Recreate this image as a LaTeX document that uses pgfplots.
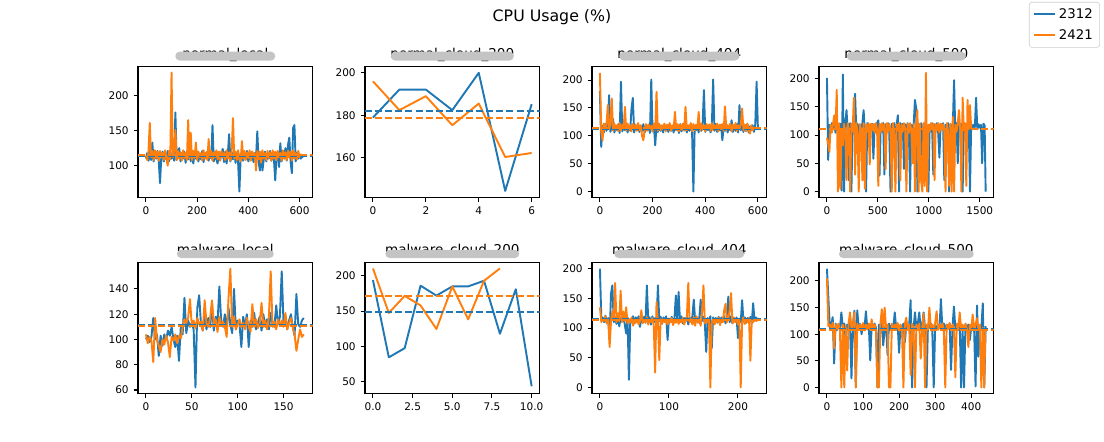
\documentclass[border=0pt]{standalone}
\usepackage{fontspec}
\setmainfont{DejaVu Sans}
\usepackage{pgfplots}
\pgfplotsset{compat=1.18}
\definecolor{C1}{RGB}{31,119,180}
\definecolor{C2}{RGB}{255,127,14}
\definecolor{REDACT}{RGB}{196,196,196}

\pgfplotsset{
  panel/.style={
    width=1.746in, height=1.306in, scale only axis, anchor=south west,
    tick align=outside, tick pos=left, major tick length=3.2pt,
    every tick/.style={black, line width=0.74pt},
    axis line style={line width=0.74pt},
    tick label style={font=\fontsize{7.6}{9}\selectfont},
    /pgf/number format/assume math mode=true,
    /pgf/number format/1000 sep={},
    scaled ticks=false,
    title style={font=\fontsize{9.8}{11}\selectfont, at={(0.5,1)}, anchor=base, inner sep=0pt},
    every axis plot/.append style={line width=1.38pt, line join=round, no markers},
  },
  mean/.style={dash pattern=on 5.1pt off 2.2pt, forget plot},
}
% grey bar over a subplot title: axis name, half width, bottom and top offset
\newcommand{\redact}[4]{%
  \fill[REDACT, rounded corners=3.2pt] ([xshift=-#2,yshift=#3]#1.north) rectangle ([xshift=#2,yshift=#4]#1.north);}

\begin{document}
\begin{tikzpicture}
\path[use as bounding box] (0,0) rectangle (11.04in,4.42in);
\node[anchor=north, inner sep=0pt, font=\fontsize{11.4}{13}\selectfont] at (5.52in,4.33in) {CPU Usage (\%)};

% ---------- row 1 ----------
\begin{axis}[panel, name=p1, at={(1.38in,2.445in)}, title={normal\_local},
  xmin=-31, xmax=651, ymin=54.5, ymax=241, xtick={0,200,400,600}, ytick={100,150,200}]
\addplot[C1] coordinates {(0,110)(5,118)(10,107)(15,120)(20,108)(25,133)(30,106)(35,119)(40,110)(45,121)(50,107)(55,75)(60,112)(65,120)(70,106)(75,118)(80,109)(85,121)(90,106)(95,117)(100,110)(105,120)(110,107)(115,176)(120,108)(125,119)(130,125)(135,106)(140,118)(145,110)(150,120)(155,104)(160,117)(165,109)(170,121)(175,106)(180,119)(185,103)(190,118)(195,110)(200,120)(205,106)(210,117)(215,109)(220,121)(225,105)(230,118)(235,110)(240,120)(245,107)(250,118)(255,110)(260,158)(265,106)(270,119)(275,109)(280,103)(285,120)(290,108)(295,118)(300,124)(305,105)(310,120)(315,103)(320,117)(325,145)(330,106)(335,119)(340,109)(345,121)(350,104)(355,118)(360,105)(365,63)(370,112)(375,120)(380,107)(385,118)(390,110)(395,121)(400,106)(405,117)(410,109)(415,120)(420,105)(425,118)(430,110)(435,149)(440,106)(445,93)(450,119)(455,93)(460,108)(465,120)(470,106)(475,117)(480,110)(485,121)(490,107)(495,118)(500,109)(505,79)(510,112)(515,120)(520,98)(525,132)(530,106)(535,119)(540,110)(545,125)(550,107)(555,130)(560,140)(565,106)(570,89)(575,154)(580,158)(585,106)(590,118)(595,110)(600,115)(605,110)(610,113)(615,112)};
\addplot[C2] coordinates {(0,114)(5,108)(10,120)(15,161)(20,112)(25,121)(30,108)(35,122)(40,111)(45,120)(50,107)(55,121)(60,112)(65,118)(70,108)(75,122)(80,110)(85,100)(90,121)(95,109)(100,233)(105,112)(110,120)(115,151)(120,108)(125,121)(130,110)(135,119)(140,107)(145,122)(150,111)(155,118)(160,108)(165,165)(170,110)(175,147)(180,108)(185,121)(190,111)(195,133)(200,108)(205,120)(210,112)(215,118)(220,107)(225,122)(230,110)(235,119)(240,108)(245,138)(250,111)(255,121)(260,107)(265,119)(270,112)(275,122)(280,109)(285,120)(290,107)(295,121)(300,112)(305,118)(310,108)(315,122)(320,110)(325,119)(330,107)(335,121)(340,168)(345,110)(350,120)(355,108)(360,122)(365,111)(370,106)(375,135)(380,110)(385,121)(390,108)(395,119)(400,111)(405,122)(410,107)(415,120)(420,112)(425,118)(430,93)(435,121)(440,109)(445,120)(450,104)(455,122)(460,110)(465,118)(470,108)(475,121)(480,111)(485,119)(490,107)(495,122)(500,110)(505,120)(510,108)(515,121)(520,112)(525,118)(530,107)(535,122)(540,110)(545,119)(550,108)(555,121)(560,111)(565,120)(570,107)(575,122)(580,110)(585,118)(590,109)(595,121)(600,112)(605,116)(610,114)(615,114)(620,114)};
\addplot[C1, mean] coordinates {(-31,113.8)(651,113.8)};
\addplot[C2, mean] coordinates {(-31,114.6)(651,114.6)};
\end{axis}
\redact{p1}{0.50in}{0.063in}{0.153in}

\begin{axis}[panel, name=p2, at={(3.65in,2.445in)}, title={normal\_cloud\_200},
  xmin=-0.3, xmax=6.3, ymin=141.2, ymax=202.8, xtick={0,2,4,6}, ytick={160,180,200}]
\addplot[C1] coordinates {(0,178.9)(1,192.1)(2,192.1)(3,182.4)(4,200)(5,144.3)(6,185.2)};
\addplot[C2] coordinates {(0,196)(1,182.4)(2,189)(3,175.3)(4,185.5)(5,160.3)(6,162.2)};
\addplot[C1, mean] coordinates {(-0.3,182.1)(6.3,182.1)};
\addplot[C2, mean] coordinates {(-0.3,178.7)(6.3,178.7)};
\end{axis}
\redact{p2}{0.615in}{0.063in}{0.153in}

\begin{axis}[panel, name=p3, at={(5.92in,2.445in)}, title={normal\_cloud\_404},
  xmin=-30, xmax=633, ymin=-10.6, ymax=223.6, xtick={0,200,400,600}, ytick={0,50,100,150,200}]
\addplot[C1] coordinates {(0,180)(5,80)(10,118)(15,106)(20,121)(25,109)(30,119)(35,173)(40,107)(45,120)(50,130)(55,106)(60,118)(65,110)(70,121)(75,105)(80,197)(85,108)(90,119)(95,110)(100,121)(105,106)(110,118)(115,109)(120,149)(125,168)(130,106)(135,119)(140,110)(145,120)(150,107)(155,118)(160,109)(165,121)(170,106)(175,117)(180,110)(185,120)(190,105)(195,201)(200,108)(205,119)(210,83)(215,118)(220,107)(225,121)(230,109)(235,118)(240,106)(245,120)(250,110)(255,117)(260,107)(265,121)(270,109)(275,118)(280,106)(285,120)(290,110)(295,119)(300,105)(305,121)(310,108)(315,118)(320,110)(325,120)(330,106)(335,117)(340,109)(345,121)(350,107)(355,0)(360,118)(365,110)(370,120)(375,106)(380,119)(385,109)(390,121)(395,182)(400,107)(405,118)(410,110)(415,120)(420,106)(425,117)(430,201)(435,109)(440,121)(445,107)(450,118)(455,110)(460,120)(465,92)(470,117)(475,109)(480,121)(485,106)(490,118)(495,110)(500,128)(505,107)(510,119)(515,109)(520,121)(525,106)(530,155)(535,110)(540,118)(545,107)(550,120)(555,109)(560,121)(565,106)(570,117)(575,110)(580,119)(585,107)(590,121)(595,197)(600,112)(603,116)};
\addplot[C2] coordinates {(0,213)(5,108)(10,92)(15,122)(20,110)(25,120)(30,155)(35,112)(40,121)(45,167)(50,109)(55,122)(60,111)(65,119)(70,108)(75,123)(80,110)(85,120)(90,112)(95,152)(100,109)(105,122)(110,111)(115,119)(120,108)(125,121)(130,112)(135,120)(140,109)(145,123)(150,110)(155,119)(160,100)(165,92)(170,111)(175,121)(180,109)(185,120)(190,112)(195,118)(200,108)(205,122)(210,111)(215,179)(220,109)(225,121)(230,110)(235,119)(240,112)(245,122)(250,108)(255,120)(260,111)(265,123)(270,109)(275,119)(280,112)(285,143)(290,110)(295,121)(300,108)(305,120)(310,111)(315,122)(320,109)(325,152)(330,110)(335,119)(340,112)(345,123)(350,108)(355,121)(360,110)(365,120)(370,112)(375,143)(380,109)(385,122)(390,111)(395,119)(400,108)(405,121)(410,112)(415,120)(420,109)(425,123)(430,110)(435,119)(440,111)(445,122)(450,108)(455,120)(460,112)(465,121)(470,109)(475,153)(480,110)(485,119)(490,112)(495,122)(500,108)(505,120)(510,111)(515,123)(520,109)(525,119)(530,112)(535,121)(540,149)(545,110)(550,120)(555,108)(560,122)(565,111)(570,104)(575,119)(580,110)(585,115)(590,113)};
\addplot[C1, mean] coordinates {(-30,113)(633,113)};
\addplot[C2, mean] coordinates {(-30,113.5)(633,113.5)};
\end{axis}
\redact{p3}{0.60in}{0.063in}{0.153in}

\begin{axis}[panel, name=p4, at={(8.19in,2.445in)}, title={normal\_cloud\_500},
  xmin=-78, xmax=1636, ymin=-10.5, ymax=220.5, xtick={0,500,1000,1500}, ytick={0,50,100,150,200},
  legend style={at={(1.609,1.497)}, anchor=north east, draw=black!20, rounded corners=2pt,
    font=\fontsize{9.6}{11}\selectfont, inner xsep=3pt, inner ysep=2.6pt, row sep=2.2pt},
  legend cell align=left,
  legend image code/.code={\draw[#1, line width=1.45pt] (0pt,0.3pt) -- (15pt,0.3pt);}]
\addplot[C1] coordinates {(0,201)(12,56)(24,118)(36,105)(48,121)(60,110)(72,119)(84,104)(96,121)(108,112)(120,60)(132,120)(144,2)(156,207)(168,0)(180,119)(192,144)(204,106)(216,20)(228,121)(240,0)(252,118)(264,104)(276,173)(288,110)(300,120)(312,48)(324,119)(336,106)(348,121)(360,144)(372,104)(384,0)(396,121)(408,80)(420,118)(432,110)(444,120)(456,58)(468,119)(480,105)(492,121)(504,126)(516,28)(528,118)(540,107)(552,121)(564,30)(576,119)(588,110)(600,121)(612,104)(624,0)(636,120)(648,108)(660,121)(672,60)(684,118)(696,135)(708,0)(720,121)(732,106)(744,120)(756,40)(768,119)(780,104)(792,121)(804,110)(816,0)(828,118)(840,106)(852,121)(864,162)(876,147)(888,0)(900,120)(912,108)(924,121)(936,20)(948,119)(960,105)(972,121)(984,110)(996,0)(1008,118)(1020,106)(1032,121)(1044,30)(1056,119)(1068,108)(1080,121)(1092,104)(1104,60)(1116,120)(1128,110)(1140,121)(1152,20)(1164,118)(1176,105)(1188,121)(1200,0)(1212,119)(1224,108)(1236,120)(1248,197)(1260,104)(1272,121)(1284,50)(1296,118)(1308,110)(1320,120)(1332,0)(1344,121)(1356,106)(1368,118)(1380,110)(1392,121)(1404,0)(1416,120)(1428,112)(1440,118)(1452,114)(1464,166)(1476,110)(1488,119)(1500,113)(1512,118)(1524,50)(1536,120)(1548,117)(1558,0)};
\addlegendentry{2312}
\addplot[C2] coordinates {(0,95)(12,85)(24,70)(36,118)(48,104)(60,121)(72,135)(84,110)(96,180)(108,0)(120,121)(132,5)(144,110)(156,82)(168,120)(180,104)(192,20)(204,121)(216,108)(228,0)(240,120)(252,106)(264,166)(276,30)(288,121)(300,104)(312,0)(324,119)(336,108)(348,20)(360,121)(372,5)(384,118)(396,106)(408,121)(420,48)(432,120)(444,108)(456,119)(468,104)(480,121)(492,110)(504,10)(516,120)(528,106)(540,121)(552,108)(564,119)(576,40)(588,121)(600,106)(612,120)(624,110)(636,0)(648,121)(660,104)(672,0)(684,119)(696,108)(708,121)(720,20)(732,118)(744,106)(756,121)(768,110)(780,0)(792,120)(804,104)(816,121)(828,108)(840,50)(852,119)(864,0)(876,121)(888,144)(900,0)(912,120)(924,20)(936,0)(948,121)(960,10)(972,210)(984,0)(996,118)(1008,106)(1020,121)(1032,110)(1044,120)(1056,20)(1068,119)(1080,108)(1092,121)(1104,104)(1116,120)(1128,110)(1140,119)(1152,106)(1164,0)(1176,121)(1188,108)(1200,10)(1212,120)(1224,0)(1236,132)(1248,0)(1260,118)(1272,106)(1284,120)(1296,144)(1308,110)(1320,0)(1332,166)(1344,108)(1356,121)(1368,10)(1380,162)(1392,110)(1404,153)(1416,112)(1428,110)};
\addlegendentry{2421}
\addplot[C1, mean] coordinates {(-78,111.5)(1636,111.5)};
\addplot[C2, mean] coordinates {(-78,111)(1636,111)};
\end{axis}
\redact{p4}{0.595in}{0.063in}{0.153in}

% ---------- row 2 ----------
\begin{axis}[panel, name=p5, at={(1.38in,0.486in)}, title={malware\_local},
  xmin=-8.65, xmax=181.65, ymin=57.3, ymax=160.7, xtick={0,50,100,150}, ytick={60,80,100,120,140}]
\addplot[C1] coordinates {(0,100)(2,103)(4,98)(6,102)(8,117)(10,100)(12,104)(14,87)(16,103)(18,95)(20,104)(22,100)(24,107)(26,103)(28,110)(30,100)(32,94)(34,103)(36,83)(38,110)(40,104)(42,133)(44,105)(46,115)(48,110)(50,113)(52,108)(54,62)(56,125)(58,135)(60,112)(62,107)(64,120)(66,108)(68,117)(70,110)(72,127)(74,107)(76,118)(78,112)(80,142)(82,115)(84,110)(86,120)(88,108)(90,125)(92,112)(94,105)(96,140)(98,108)(100,115)(102,112)(104,94)(106,118)(108,110)(110,120)(112,94)(114,115)(116,110)(118,121)(120,108)(122,113)(124,118)(126,107)(128,120)(130,110)(132,116)(134,108)(136,121)(138,112)(140,110)(142,127)(144,112)(146,118)(148,154)(150,112)(152,118)(154,108)(156,115)(158,120)(160,110)(162,103)(164,136)(166,112)(168,110)(170,115)(172,117)};
\addplot[C2] coordinates {(0,104)(2,97)(4,102)(6,99)(8,82)(10,117)(12,100)(14,95)(16,90)(18,100)(20,96)(22,103)(24,98)(26,86)(28,102)(30,99)(32,104)(34,97)(36,103)(38,101)(40,110)(42,116)(44,113)(46,117)(48,132)(50,111)(52,115)(54,109)(56,117)(58,112)(60,114)(62,107)(64,131)(66,113)(68,110)(70,117)(72,131)(74,112)(76,116)(78,106)(80,118)(82,112)(84,114)(86,110)(88,102)(90,133)(92,156)(94,110)(96,118)(98,108)(100,112)(102,116)(104,110)(106,113)(108,108)(110,117)(112,111)(114,106)(116,128)(118,110)(120,116)(122,109)(124,113)(126,129)(128,110)(130,115)(132,108)(134,118)(136,154)(138,110)(140,114)(142,108)(144,116)(146,111)(148,115)(150,110)(152,121)(154,108)(156,113)(158,117)(160,110)(162,104)(164,91)(166,100)(168,108)(170,102)(172,104)};
\addplot[C1, mean] coordinates {(-8.65,111.1)(181.65,111.1)};
\addplot[C2, mean] coordinates {(-8.65,110.8)(181.65,110.8)};
\end{axis}
\redact{p5}{0.485in}{0.047in}{0.13in}

\begin{axis}[panel, name=p6, at={(3.65in,0.486in)}, title={malware\_cloud\_200},
  xmin=-0.5, xmax=10.5, ymin=33.6, ymax=218.4, xtick={0,2.5,5,7.5,10}, ytick={50,100,150,200},
  xticklabel style={/pgf/number format/.cd, fixed, fixed zerofill, precision=1}]
\addplot[C1] coordinates {(0,194)(1,84.6)(2,97.6)(3,186)(4,172)(5,185)(6,185)(7,193)(8,118)(9,181)(10,43.6)};
\addplot[C2] coordinates {(0,210.4)(1,147.4)(2,171.6)(3,158)(4,124.8)(5,185)(6,138.4)(7,193)(8,210.4)};
\addplot[C1, mean] coordinates {(-0.5,149.1)(10.5,149.1)};
\addplot[C2, mean] coordinates {(-0.5,170.8)(10.5,170.8)};
\end{axis}
\redact{p6}{0.67in}{0.047in}{0.13in}

\begin{axis}[panel, name=p7, at={(5.92in,0.486in)}, title={malware\_cloud\_404},
  xmin=-11.5, xmax=241.5, ymin=-10, ymax=210, xtick={0,100,200}, ytick={0,50,100,150,200}]
\addplot[C1] coordinates {(0,200)(2,115)(4,118)(6,110)(8,121)(10,108)(12,117)(14,80)(16,158)(18,172)(20,110)(22,118)(24,107)(26,120)(28,103)(30,117)(32,111)(34,120)(36,106)(38,91)(40,118)(42,13)(44,115)(46,110)(48,120)(50,108)(52,118)(54,112)(56,120)(58,102)(60,117)(62,110)(64,119)(66,109)(68,172)(70,113)(72,118)(74,106)(76,120)(78,110)(80,117)(82,108)(84,172)(86,112)(88,119)(90,107)(92,118)(94,111)(96,120)(98,80)(100,116)(102,110)(104,119)(106,108)(108,117)(110,155)(112,111)(114,161)(116,110)(118,120)(120,108)(122,117)(124,112)(126,119)(128,106)(130,118)(132,111)(134,120)(136,148)(138,110)(140,118)(142,109)(144,117)(146,148)(148,112)(150,119)(152,108)(154,60)(156,117)(158,111)(160,120)(162,66)(164,118)(166,110)(168,117)(170,109)(172,119)(174,107)(176,118)(178,111)(180,120)(182,108)(184,117)(186,153)(188,110)(190,119)(192,108)(194,117)(196,112)(198,118)(200,83)(202,116)(204,110)(206,147)(208,111)(210,118)(212,109)(214,117)(216,112)(218,119)(220,108)(222,142)(224,113)(226,118)(228,115)(230,116)};
\addplot[C2] coordinates {(0,135)(2,110)(4,115)(6,112)(8,120)(10,108)(12,116)(14,68)(16,110)(18,128)(20,115)(22,176)(24,110)(26,125)(28,112)(30,163)(32,110)(34,128)(36,112)(38,135)(40,108)(42,115)(44,110)(46,118)(48,104)(50,113)(52,109)(54,116)(56,106)(58,112)(60,130)(62,108)(64,115)(66,110)(68,118)(70,106)(72,114)(74,110)(76,117)(78,104)(80,25)(82,144)(84,110)(86,46)(88,115)(90,108)(92,116)(94,110)(96,113)(98,106)(100,115)(102,110)(104,117)(106,105)(108,113)(110,109)(112,116)(114,107)(116,114)(118,110)(120,117)(122,106)(124,113)(126,120)(128,176)(130,110)(132,115)(134,106)(136,118)(138,104)(140,120)(142,110)(144,113)(146,104)(148,130)(150,172)(152,108)(154,115)(156,110)(158,113)(160,0)(162,110)(164,115)(166,106)(168,113)(170,110)(172,118)(174,105)(176,114)(178,110)(180,130)(182,141)(184,110)(186,117)(188,130)(190,159)(192,108)(194,118)(196,110)(198,115)(200,106)(202,113)(204,0)(206,110)(208,118)(210,107)(212,114)(214,110)(216,117)(218,45)(220,113)(222,110)(224,115)(226,112)(228,113)};
\addplot[C1, mean] coordinates {(-11.5,115.5)(241.5,115.5)};
\addplot[C2, mean] coordinates {(-11.5,113.2)(241.5,113.2)};
\end{axis}
\redact{p7}{0.65in}{0.047in}{0.13in}

\begin{axis}[panel, name=p8, at={(8.19in,0.486in)}, title={malware\_cloud\_500},
  xmin=-22, xmax=462, ymin=-11.15, ymax=234.15, xtick={0,100,200,300,400}, ytick={0,50,100,150,200}]
\addplot[C1] coordinates {(0,223)(4,168)(8,112)(12,118)(16,132)(20,45)(24,120)(28,108)(32,118)(36,111)(40,141)(44,112)(48,120)(52,89)(56,118)(60,109)(64,120)(68,17)(72,118)(76,144)(80,0)(84,145)(88,112)(92,119)(96,100)(100,117)(104,110)(108,143)(112,109)(116,118)(120,51)(124,117)(128,110)(132,120)(136,112)(140,0)(144,118)(148,109)(152,120)(156,79)(160,110)(164,118)(168,61)(172,120)(176,108)(180,118)(184,112)(188,141)(192,110)(196,119)(200,65)(204,117)(208,110)(212,120)(216,85)(220,118)(224,112)(228,117)(232,164)(236,0)(240,110)(244,141)(248,112)(252,120)(256,141)(260,108)(264,117)(268,141)(272,110)(276,0)(280,118)(284,112)(288,120)(292,108)(296,0)(300,118)(304,110)(308,117)(312,112)(316,166)(320,110)(324,120)(328,108)(332,118)(336,111)(340,120)(344,33)(348,112)(352,152)(356,110)(360,118)(364,108)(368,119)(372,0)(376,112)(380,0)(384,119)(388,110)(392,118)(396,89)(400,112)(404,118)(408,109)(412,2)(416,154)(420,58)(424,117)(428,110)(432,158)(436,0)(440,115)};
\addplot[C2] coordinates {(0,205)(4,115)(8,118)(12,110)(16,122)(20,73)(24,118)(28,110)(32,120)(36,108)(40,0)(44,118)(48,0)(52,116)(56,32)(60,120)(64,141)(68,110)(72,118)(76,141)(80,0)(84,120)(88,108)(92,118)(96,110)(100,121)(104,107)(108,118)(112,110)(116,120)(120,108)(124,128)(128,110)(132,118)(136,107)(140,0)(144,0)(148,118)(152,147)(156,110)(160,150)(164,108)(168,118)(172,0)(176,0)(180,120)(184,108)(188,118)(192,110)(196,121)(200,107)(204,118)(208,110)(212,0)(216,120)(220,131)(224,108)(228,118)(232,24)(236,120)(240,110)(244,0)(248,118)(252,108)(256,120)(260,54)(264,110)(268,139)(272,0)(276,118)(280,108)(284,150)(288,110)(292,118)(296,107)(300,121)(304,143)(308,108)(312,118)(316,110)(320,120)(324,108)(328,0)(332,118)(336,110)(340,121)(344,107)(348,118)(352,110)(356,19)(360,120)(364,108)(368,141)(372,110)(376,118)(380,107)(384,120)(388,110)(392,76)(396,118)(400,108)(404,137)(408,110)(412,118)(416,130)(420,108)(424,118)(428,0)(432,112)(436,0)(439,110)};
\addplot[C1, mean] coordinates {(-22,110)(462,110)};
\addplot[C2, mean] coordinates {(-22,108.3)(462,108.3)};
\end{axis}
\redact{p8}{0.675in}{0.047in}{0.13in}
\end{tikzpicture}
\end{document}
